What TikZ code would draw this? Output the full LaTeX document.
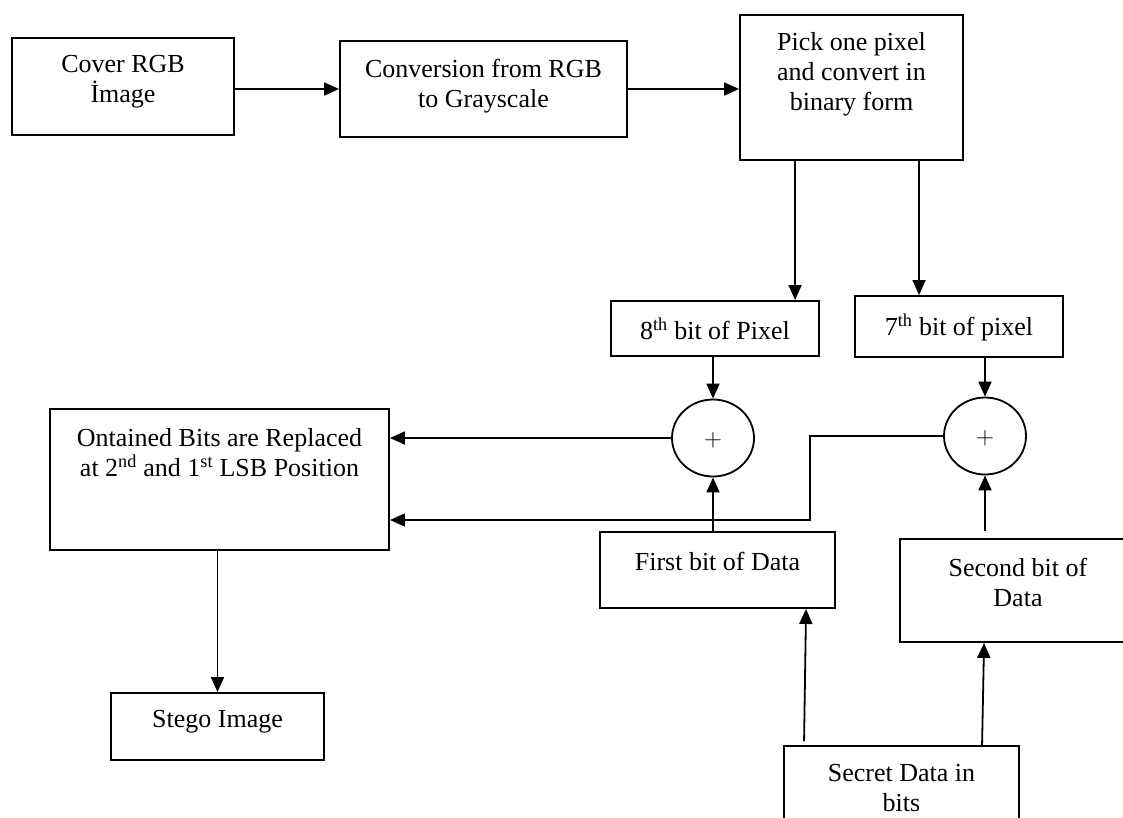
\documentclass[tikz,border=0pt]{standalone}
\usepackage{fontspec}
\setmainfont{Liberation Serif}
\usetikzlibrary{arrows.meta,calc,shapes.geometric}
\tikzset{
  boxn/.style={draw, line width=1.9pt, rectangle, inner sep=0pt},
  txt/.style={align=center, inner sep=0pt, font=\fontsize{26}{30}\selectfont},
  arr/.style={line width=1.8pt, -{Triangle[length=15pt,width=13pt]}},
  sumn/.style={draw, line width=1.8pt, ellipse, inner sep=0pt, minimum width=82pt, minimum height=77pt},
}
\begin{document}
\begin{tikzpicture}[x=1pt,y=-1pt]
\useasboundingbox (0,0) rectangle (1123,817);
\clip (0,0) rectangle (1123,817);
% boxes
\node[boxn, minimum width=222pt, minimum height=97pt] (cover) at (123,86.5) {};
\node[boxn, minimum width=287pt, minimum height=96pt] (conv) at (483.5,89) {};
\node[boxn, minimum width=223pt, minimum height=145pt] (pick) at (851.5,87.5) {};
\node[boxn, minimum width=208pt, minimum height=55pt] (eighth) at (715,328.5) {};
\node[boxn, minimum width=208pt, minimum height=61pt] (seventh) at (959,326.5) {};
\node[sumn] (s1) at (713,438) {};
\node[sumn] (s2) at (985,436) {};
\node[txt, font=\fontsize{34}{34}\selectfont] (plus1) at (713,440) {$+$};
\node[txt, font=\fontsize{34}{34}\selectfont] (plus2) at (985,438) {$+$};
\node[boxn, minimum width=339pt, minimum height=141pt] (ont) at (219.5,479.5) {};
\node[boxn, minimum width=213pt, minimum height=67pt] (stego) at (217.5,726.5) {};
\node[boxn, minimum width=235pt, minimum height=76pt] (first) at (717.5,570) {};
\node[boxn, minimum width=236pt, minimum height=103pt] (second) at (1018,590.5) {};
\node[boxn, minimum width=235pt, minimum height=100pt] (secret) at (901.5,796) {};
% texts
\node[txt] (tcover) at (123,82) {Cover RGB\\İmage};
\node[txt] (tconv) at (483.5,86) {Conversion from RGB\\to Grayscale};
\node[txt] (tpick) at (851.5,74) {Pick one pixel\\and convert in\\binary form};
\node[txt] (teighth) at (715,329) {8\textsuperscript{th} bit of Pixel};
\node[txt] (tseventh) at (959,327) {7\textsuperscript{th} bit of pixel};
\node[txt] (tont) at (219.5,453) {Ontained Bits are Replaced\\at 2\textsuperscript{nd} and 1\textsuperscript{st} LSB Position};
\node[txt] (tstego) at (217.5,722) {Stego Image};
\node[txt] (tfirst) at (717.5,561) {First bit of Data};
\node[txt] (tsecond) at (1018,582) {Second bit of\\Data};
\node[txt] (tsecret) at (901.5,788) {Secret Data in\\bits};
% connectors
\draw[arr] (cover.east |- conv.west) -- (conv.west);
\draw[arr] (conv.east) -- (pick.west |- conv.east);
\coordinate (p1) at ($(pick.south west)+(56,0)$);
\coordinate (p2) at ($(pick.south west)+(180,0)$);
\draw[arr] (p1) -- (p1 |- eighth.north);
\draw[arr] (p2) -- (p2 |- seventh.north);
\draw[arr] (s1 |- eighth.south) -- (s1.north);
\draw[arr] (s2 |- seventh.south) -- (s2.north);
\draw[arr] (s1.west) -- (s1.west -| ont.east);
\coordinate (bend) at (810,520);
\draw[arr] (s2.west) -| (bend) -- (bend -| ont.east);
\draw[arr] (s1 |- first.north) -- (s1.south);
\coordinate (q0) at ($(s2 |- second.north)+(0,-7)$);
\draw[arr] (q0) -- (s2.south);
\draw[arr] (stego |- ont.south) -- (stego.north);
\coordinate (q1) at ($(secret.north west)+(21,-4)$);
\draw[arr] (q1) -- ($(first.south west)+(207,0)$);
\coordinate (q2) at ($(secret.north west)+(199,0)$);
\draw[arr] (q2) -- ($(second.south west)+(85,0)$);
\end{tikzpicture}
\end{document}
